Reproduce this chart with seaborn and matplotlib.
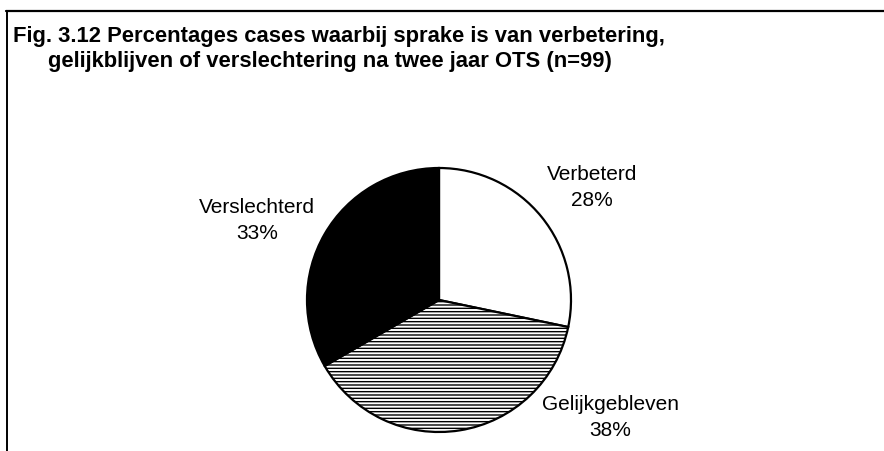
import matplotlib
matplotlib.use("Agg")
import matplotlib.pyplot as plt
from matplotlib.lines import Line2D
import seaborn as sns

# values (clockwise from 12 o'clock)
categories = ["Verbeterd", "Gelijkgebleven", "Verslechterd"]
percentages = [28, 38, 33]
slice_colors = ["white", "white", "black"]
slice_hatches = ["", "-----", ""]

title_lines = ["Fig. 3.12 Percentages cases waarbij sprake is van verbetering,",
               "gelijkblijven of verslechtering na twee jaar OTS (n=99)"]

sns.set_theme(style="white")
plt.rcParams["font.family"] = ["Liberation Sans", "DejaVu Sans"]
plt.rcParams["text.color"] = "black"
plt.rcParams["hatch.linewidth"] = 1.0

W, H = 884, 451
fig = plt.figure(figsize=(W / 100, H / 100), dpi=100)

# pie centre and radius in pixels
cx, cy, r = 439, 300, 132
ax = fig.add_axes([(cx - r) / W, (H - cy - r) / H, 2 * r / W, 2 * r / H])

wedges, _ = ax.pie(
    percentages,
    colors=slice_colors,
    startangle=90,
    counterclock=False,
    radius=1,
    wedgeprops=dict(edgecolor="black", linewidth=1.6),
)
for w, h in zip(wedges, slice_hatches):
    w.set_hatch(h)

ax.set_xlim(-1, 1)
ax.set_ylim(-1, 1)
ax.set_aspect("equal")
ax.axis("off")

# label positions in pie-radius units
label_pos = [(1.16, 0.85), (1.30, -0.89), (-1.38, 0.60)]
for name, pct, (lx, ly) in zip(categories, percentages, label_pos):
    ax.text(lx, ly, f"{name}\n{pct}%", ha="center", va="center",
            fontsize=15, linespacing=1.45, clip_on=False)

# two-line bold title, second line indented
fig.text(13 / W, 1 - 42 / H, title_lines[0], ha="left", va="baseline",
         fontsize=15.8, fontweight="bold")
fig.text(48 / W, 1 - 67 / H, title_lines[1], ha="left", va="baseline",
         fontsize=15.8, fontweight="bold")

# frame lines of the scanned figure
fig.add_artist(Line2D([6 / W, 1], [1 - 11 / H, 1 - 11 / H], color="black", lw=1.6))
fig.add_artist(Line2D([7 / W, 7 / W], [0, 1 - 11 / H], color="black", lw=1.4))

fig.savefig("out.png", dpi=100)
